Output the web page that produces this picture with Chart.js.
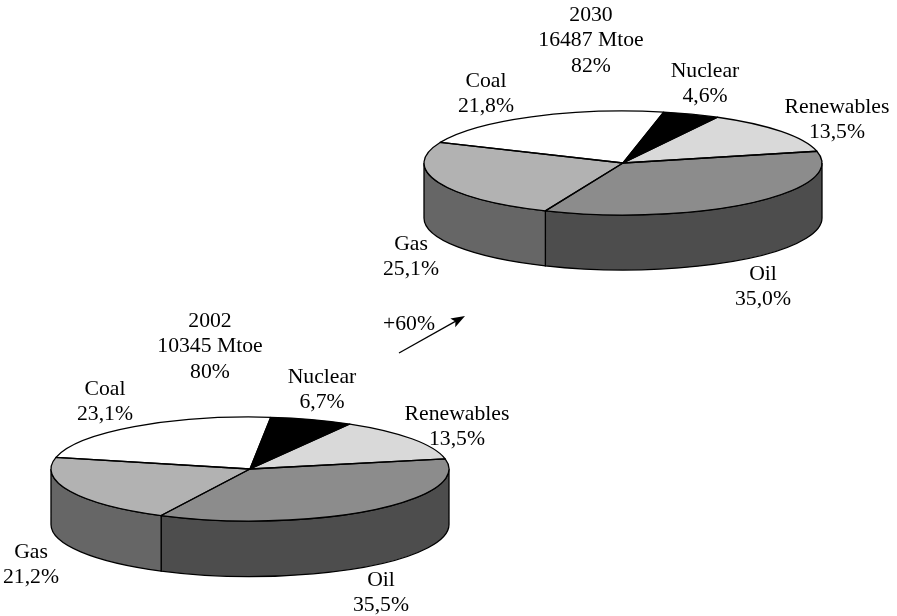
<!DOCTYPE html>
<html>
<head>
<meta charset="utf-8">
<style>
    html, body { margin: 0; padding: 0; background: #fff; }
    canvas { position: absolute; left: 0; top: 0; }
</style>
</head>
<body>
<canvas id="pie2002" width="897" height="616"></canvas>
<canvas id="pie2030" width="897" height="616"></canvas>
<script src="https://cdn.jsdelivr.net/npm/chart.js@4"></script>
<script>
const categories = ['Nuclear', 'Renewables', 'Oil', 'Gas', 'Coal'];
const values2002 = [6.7, 13.5, 35.5, 21.2, 23.1];
const values2030 = [4.6, 13.5, 35.0, 25.1, 21.8];
const header2002 = ['2002', '10345 Mtoe', '80%'];
const header2030 = ['2030', '16487 Mtoe', '82%'];
const growthLabel = '+60%';

const topColors = ['#000000', '#d9d9d9', '#8c8c8c', '#b2b2b2', '#ffffff'];
const wallColors = ['#000000', '#a0a0a0', '#4d4d4d', '#666666', '#cccccc'];

const FONT = '21.7px "Liberation Serif"';
const LINE = 25.7;

// where the 3d pies sit on the page, label centres are [x, y of first line]
const layout2002 = {
    cx: 250, cy: 469, rx: 199, ry: 52, depth: 55.5, rotation: 6.0,
    header: [210, 321],
    labels: [[322, 377], [457, 414], [381, 580], [31, 552], [105, 389]]
};
const layout2030 = {
    cx: 623, cy: 163, rx: 199, ry: 52, depth: 55, rotation: 11.8,
    header: [591, 15],
    labels: [[705, 71], [837, 107], [763, 274], [411, 244], [486, 81]]
};

function slicePath(ctx, p, a0, a1) {
    ctx.beginPath();
    ctx.moveTo(p.cx, p.cy);
    ctx.ellipse(p.cx, p.cy, p.rx, p.ry, 0, a0, a1);
    ctx.closePath();
}

// squashes the library's arcs into a tilted disc and adds the side wall
const tiltPlugin = {
    id: 'tilt',
    beforeDatasetsDraw(chart, args, opts) {
        const ctx = chart.ctx, p = opts.layout;
        const arcs = chart.getDatasetMeta(0).data;
        ctx.save();
        ctx.lineWidth = 1.3;
        ctx.strokeStyle = '#000';
        arcs.forEach((arc, i) => {
            [-2 * Math.PI, 0, 2 * Math.PI].forEach(shift => {
                const lo = Math.max(arc.startAngle + shift, 0);
                const hi = Math.min(arc.endAngle + shift, Math.PI);
                if (hi <= lo) return;
                ctx.beginPath();
                ctx.ellipse(p.cx, p.cy, p.rx, p.ry, 0, lo, hi);
                ctx.ellipse(p.cx, p.cy + p.depth, p.rx, p.ry, 0, hi, lo, true);
                ctx.closePath();
                ctx.fillStyle = wallColors[i];
                ctx.fill();
                ctx.stroke();
            });
        });
        ctx.restore();

        const a = arcs[0];
        const sx = p.rx / a.outerRadius, sy = p.ry / a.outerRadius;
        ctx.save();
        ctx.setTransform(sx, 0, 0, sy, p.cx - a.x * sx, p.cy - a.y * sy);
    },
    afterDatasetsDraw(chart, args, opts) {
        const ctx = chart.ctx, p = opts.layout;
        ctx.restore();
        ctx.save();
        ctx.lineWidth = 1.3;
        ctx.strokeStyle = '#000';
        ctx.lineJoin = 'round';
        chart.getDatasetMeta(0).data.forEach(arc => {
            slicePath(ctx, p, arc.startAngle, arc.endAngle);
            ctx.stroke();
        });
        ctx.fillStyle = '#000';
        ctx.font = FONT;
        ctx.textAlign = 'center';
        ctx.textBaseline = 'middle';
        opts.header.forEach((line, i) => {
            ctx.fillText(line, p.header[0], p.header[1] + i * LINE);
        });
        categories.forEach((name, i) => {
            const pos = p.labels[i];
            ctx.fillText(name, pos[0], pos[1]);
            const val = chart.data.datasets[0].data[i].toFixed(1).replace('.', ',') + '%';
            ctx.fillText(val, pos[0], pos[1] + LINE);
        });
        ctx.restore();
    }
};

const growthArrow = {
    id: 'growthArrow',
    afterDraw(chart) {
        const ctx = chart.ctx;
        const x0 = 399, y0 = 353, x1 = 465, y1 = 316;
        const ang = Math.atan2(y1 - y0, x1 - x0);
        ctx.save();
        ctx.strokeStyle = '#000';
        ctx.fillStyle = '#000';
        ctx.lineWidth = 1.3;
        ctx.beginPath();
        ctx.moveTo(x0, y0);
        ctx.lineTo(x1 - 8 * Math.cos(ang), y1 - 8 * Math.sin(ang));
        ctx.stroke();
        ctx.translate(x1, y1);
        ctx.rotate(ang);
        ctx.beginPath();
        ctx.moveTo(0, 0);
        ctx.lineTo(-14, -5);
        ctx.lineTo(-11, 0);
        ctx.lineTo(-14, 5);
        ctx.closePath();
        ctx.fill();
        ctx.restore();
        ctx.fillStyle = '#000';
        ctx.font = FONT;
        ctx.textAlign = 'center';
        ctx.textBaseline = 'middle';
        ctx.fillText(growthLabel, 409, 324);
    }
};

function makePie(id, values, header, layout, extra) {
    new Chart(document.getElementById(id), {
        type: 'pie',
        data: {
            labels: categories,
            datasets: [{
                data: values,
                backgroundColor: topColors,
                borderWidth: 0
            }]
        },
        options: {
            responsive: false,
            animation: false,
            rotation: layout.rotation,
            events: [],
            plugins: {
                legend: { display: false },
                tooltip: { enabled: false },
                tilt: { layout: layout, header: header }
            }
        },
        plugins: [tiltPlugin].concat(extra)
    });
}

makePie('pie2002', values2002, header2002, layout2002, [growthArrow]);
makePie('pie2030', values2030, header2030, layout2030, []);
</script>
</body>
</html>
